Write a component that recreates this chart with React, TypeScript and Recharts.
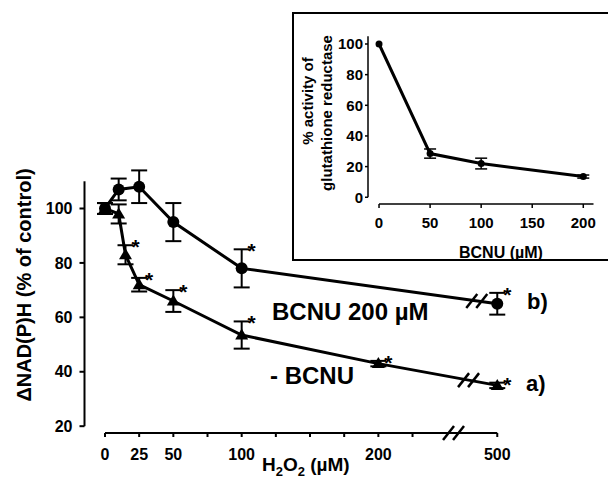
import React from 'react';
import {
  ComposedChart,
  LineChart,
  Line,
  Scatter,
  XAxis,
  YAxis,
  ErrorBar,
  ReferenceLine,
  ReferenceDot,
} from 'recharts';

// main panel: H2O2 (µM) vs NAD(P)H, 500 sits after the axis break
const h2o2Bcnu = [0, 10, 25, 50, 100, 500];
const nadphBcnu = [100, 107, 108, 95, 78, 65];
const errBcnu = [2, 4, 6, 7, 7, 4];
const starBcnu = [false, false, false, false, true, true];

const h2o2Ctrl = [0, 10, 15, 25, 50, 100, 200, 500];
const nadphCtrl = [100, 98, 83, 72, 66, 53.5, 43, 35];
const errCtrl = [2, 3.5, 3.5, 2.5, 4, 5, 1, 1];
const starCtrl = [false, false, true, true, true, true, true, true];

const xTicks = [0, 25, 50, 75, 100, 125, 150, 175, 200, 225, 500];
const xTickLabels = ['0', '25', '50', '', '100', '', '', '', '200', '', '500'];
const yTicks = [20, 40, 60, 80, 100];

// inset: glutathione reductase activity vs BCNU
const bcnuDose = [0, 50, 100, 200];
const grActivity = [100, 28.5, 22, 13.5];
const grErr = [0, 3, 3.5, 1];
const insetXTicks = [0, 50, 100, 150, 200];
const insetYTicks = [0, 20, 40, 60, 80, 100];

// broken x axis: 500 is drawn at position 287 of the linear scale
const AFTER_BREAK = 287;
const axisPos = (c: number) => (c >= 500 ? AFTER_BREAK : c);
const breakAt = { axis: 255, bcnu: 272, ctrl: 266 };

const toRows = (xs: number[], ys: number[], es: number[]) =>
  xs.map((c, i) => ({ pos: axisPos(c), v: ys[i], e: es[i] }));
const toStars = (xs: number[], ys: number[], es: number[], flags: boolean[]) =>
  xs.map((c, i) => ({ pos: axisPos(c), v: ys[i] + es[i] })).filter((_, i) => flags[i]);

const lineY = (xs: number[], ys: number[], p: number) => {
  const ps = xs.map(axisPos);
  for (let i = 1; i < ps.length; i++) {
    if (p <= ps[i]) {
      const t = (p - ps[i - 1]) / (ps[i] - ps[i - 1]);
      return ys[i - 1] + t * (ys[i] - ys[i - 1]);
    }
  }
  return ys[ys.length - 1];
};

const bcnuRows = toRows(h2o2Bcnu, nadphBcnu, errBcnu);
const ctrlRows = toRows(h2o2Ctrl, nadphCtrl, errCtrl);
const starRows = [
  ...toStars(h2o2Bcnu, nadphBcnu, errBcnu, starBcnu),
  ...toStars(h2o2Ctrl, nadphCtrl, errCtrl, starCtrl),
];
const insetRows = bcnuDose.map((d, i) => ({ dose: d, v: grActivity[i], e: grErr[i] }));

const FONT = '"Liberation Sans", Arial, sans-serif';
const tickMain = { fill: '#000', fontSize: 16, fontWeight: 700, fontFamily: FONT };
const tickInset = { fill: '#000', fontSize: 15, fontWeight: 700, fontFamily: FONT };

const Triangle = (props: any) => {
  const { cx, cy } = props;
  if (cx == null || cy == null) return null;
  return <path d={`M${cx},${cy - 6.5} L${cx + 6.5},${cy + 4.5} L${cx - 6.5},${cy + 4.5} Z`} fill="#000" />;
};

const Star = (props: any) => {
  const { cx, cy } = props;
  if (cx == null || cy == null) return null;
  return (
    <text x={cx + 10} y={cy + 9} textAnchor="middle" fontSize={21} fontWeight={700} fontFamily={FONT} fill="#000">
      *
    </text>
  );
};

const BreakMark = (props: any) => {
  const { cx, cy } = props;
  if (cx == null || cy == null) return null;
  return (
    <g stroke="#000" strokeWidth={2.5}>
      <line x1={cx - 10.5} y1={cy + 7} x2={cx + 0.5} y2={cy - 7} />
      <line x1={cx - 0.5} y1={cy + 7} x2={cx + 10.5} y2={cy - 7} />
    </g>
  );
};

const Label = ({ left, top, size, children }: any) => (
  <div
    style={{
      position: 'absolute',
      left,
      top,
      fontSize: size,
      lineHeight: 1,
      fontWeight: 700,
      whiteSpace: 'nowrap',
    }}
  >
    {children}
  </div>
);

const VLabel = ({ cx, cy, size, children }: any) => (
  <div
    style={{
      position: 'absolute',
      left: cx,
      top: cy,
      fontSize: size,
      lineHeight: 1,
      fontWeight: 700,
      whiteSpace: 'nowrap',
      transform: 'translate(-50%, -50%) rotate(-90deg)',
    }}
  >
    {children}
  </div>
);

const InsetChart = () => (
  <LineChart width={316} height={249} data={insetRows} margin={{ top: 22.8, right: 14.5, bottom: 27, left: 26 }}>
    <XAxis
      type="number"
      dataKey="dose"
      domain={[-10.8, 210]}
      ticks={insetXTicks}
      interval={0}
      axisLine={false}
      tickSize={4}
      tickMargin={9}
      tickLine={{ stroke: '#000', strokeWidth: 1.5 }}
      tick={tickInset}
    />
    <YAxis
      type="number"
      domain={[-4.4, 106]}
      ticks={insetYTicks}
      interval={0}
      width={50}
      axisLine={false}
      tickSize={3}
      tickMargin={2}
      tickLine={{ stroke: '#000', strokeWidth: 1.5 }}
      tick={tickInset}
    />
    <ReferenceLine segment={[{ x: -10.8, y: 0 }, { x: -10.8, y: 105 }]} stroke="#000" strokeWidth={1.5} ifOverflow="visible" />
    <ReferenceLine segment={[{ x: 0, y: -4.4 }, { x: 210, y: -4.4 }]} stroke="#000" strokeWidth={1.5} ifOverflow="visible" />
    <Line
      dataKey="v"
      stroke="#000"
      strokeWidth={3}
      dot={{ r: 3.5, fill: '#000', stroke: '#000', strokeWidth: 0 }}
      isAnimationActive={false}
    >
      <ErrorBar dataKey="e" width={6} stroke="#000" strokeWidth={1.5} />
    </Line>
  </LineChart>
);

export default function App() {
  return (
    <div
      style={{
        position: 'absolute',
        left: 0,
        top: 0,
        width: 608,
        height: 479,
        overflow: 'hidden',
        background: '#fff',
        fontFamily: FONT,
        color: '#000',
      }}
    >
      <ComposedChart width={608} height={479} margin={{ top: 170.4, right: 99.8, bottom: 16, left: 24.5 }}>
        <XAxis
          type="number"
          dataKey="pos"
          domain={[-15, 295]}
          ticks={xTicks.map(axisPos)}
          interval={0}
          tickFormatter={(t: number) => xTickLabels[xTicks.map(axisPos).indexOf(t)] ?? ''}
          axisLine={false}
          tickSize={4}
          tickMargin={12}
          height={30}
          tickLine={{ stroke: '#000', strokeWidth: 2 }}
          tick={tickMain}
        />
        <YAxis
          type="number"
          domain={[17.5, 114]}
          ticks={yTicks}
          interval={0}
          width={60}
          axisLine={false}
          tickSize={5}
          tickMargin={7}
          tickLine={{ stroke: '#000', strokeWidth: 2 }}
          tick={tickMain}
        />
        <ReferenceLine segment={[{ x: -15, y: 20 }, { x: -15, y: 110 }]} stroke="#000" strokeWidth={2} ifOverflow="visible" />
        <ReferenceLine segment={[{ x: 0, y: 17.5 }, { x: AFTER_BREAK, y: 17.5 }]} stroke="#000" strokeWidth={2} ifOverflow="visible" />
        <Line
          data={bcnuRows}
          dataKey="v"
          stroke="#000"
          strokeWidth={3}
          dot={{ r: 6, fill: '#000', stroke: '#000', strokeWidth: 0 }}
          isAnimationActive={false}
        >
          <ErrorBar dataKey="e" width={8} stroke="#000" strokeWidth={2} />
        </Line>
        <Line
          data={ctrlRows}
          dataKey="v"
          stroke="#000"
          strokeWidth={3}
          dot={<Triangle />}
          isAnimationActive={false}
        >
          <ErrorBar dataKey="e" width={8} stroke="#000" strokeWidth={2} />
        </Line>
        <Scatter data={starRows} dataKey="v" shape={<Star />} isAnimationActive={false} />
        <ReferenceDot x={breakAt.axis} y={17.5} r={0} shape={<BreakMark />} ifOverflow="visible" />
        <ReferenceDot
          x={breakAt.bcnu}
          y={lineY(h2o2Bcnu, nadphBcnu, breakAt.bcnu)}
          r={0}
          shape={<BreakMark />}
          ifOverflow="visible"
        />
        <ReferenceDot
          x={breakAt.ctrl}
          y={lineY(h2o2Ctrl, nadphCtrl, breakAt.ctrl)}
          r={0}
          shape={<BreakMark />}
          ifOverflow="visible"
        />
      </ComposedChart>

      <VLabel cx={24} cy={285} size={20}>ΔNAD(P)H (% of control)</VLabel>
      <Label left={262} top={454.7} size={19}>
        H<span style={{ fontSize: 13, position: 'relative', top: 5 }}>2</span>O
        <span style={{ fontSize: 13, position: 'relative', top: 5 }}>2</span> (µM)
      </Label>
      <Label left={272} top={300} size={24}>BCNU 200 µM</Label>
      <Label left={270} top={364} size={24}>- BCNU</Label>
      <Label left={527} top={291} size={22}>b)</Label>
      <Label left={526} top={373} size={22}>a)</Label>

      <div
        style={{
          position: 'absolute',
          left: 292,
          top: 12,
          width: 330,
          height: 249,
          boxSizing: 'border-box',
          borderLeft: '2px solid #000',
          borderTop: '2px solid #000',
          borderBottom: '2px solid #000',
          background: '#fff',
        }}
      />
      <div style={{ position: 'absolute', left: 292, top: 12 }}>
        <InsetChart />
      </div>
      <VLabel cx={307} cy={101} size={15}>% activity of</VLabel>
      <VLabel cx={326} cy={113} size={15}>glutathione reductase</VLabel>
      <Label left={459} top={244.7} size={16}>BCNU (µM)</Label>
    </div>
  );
}
